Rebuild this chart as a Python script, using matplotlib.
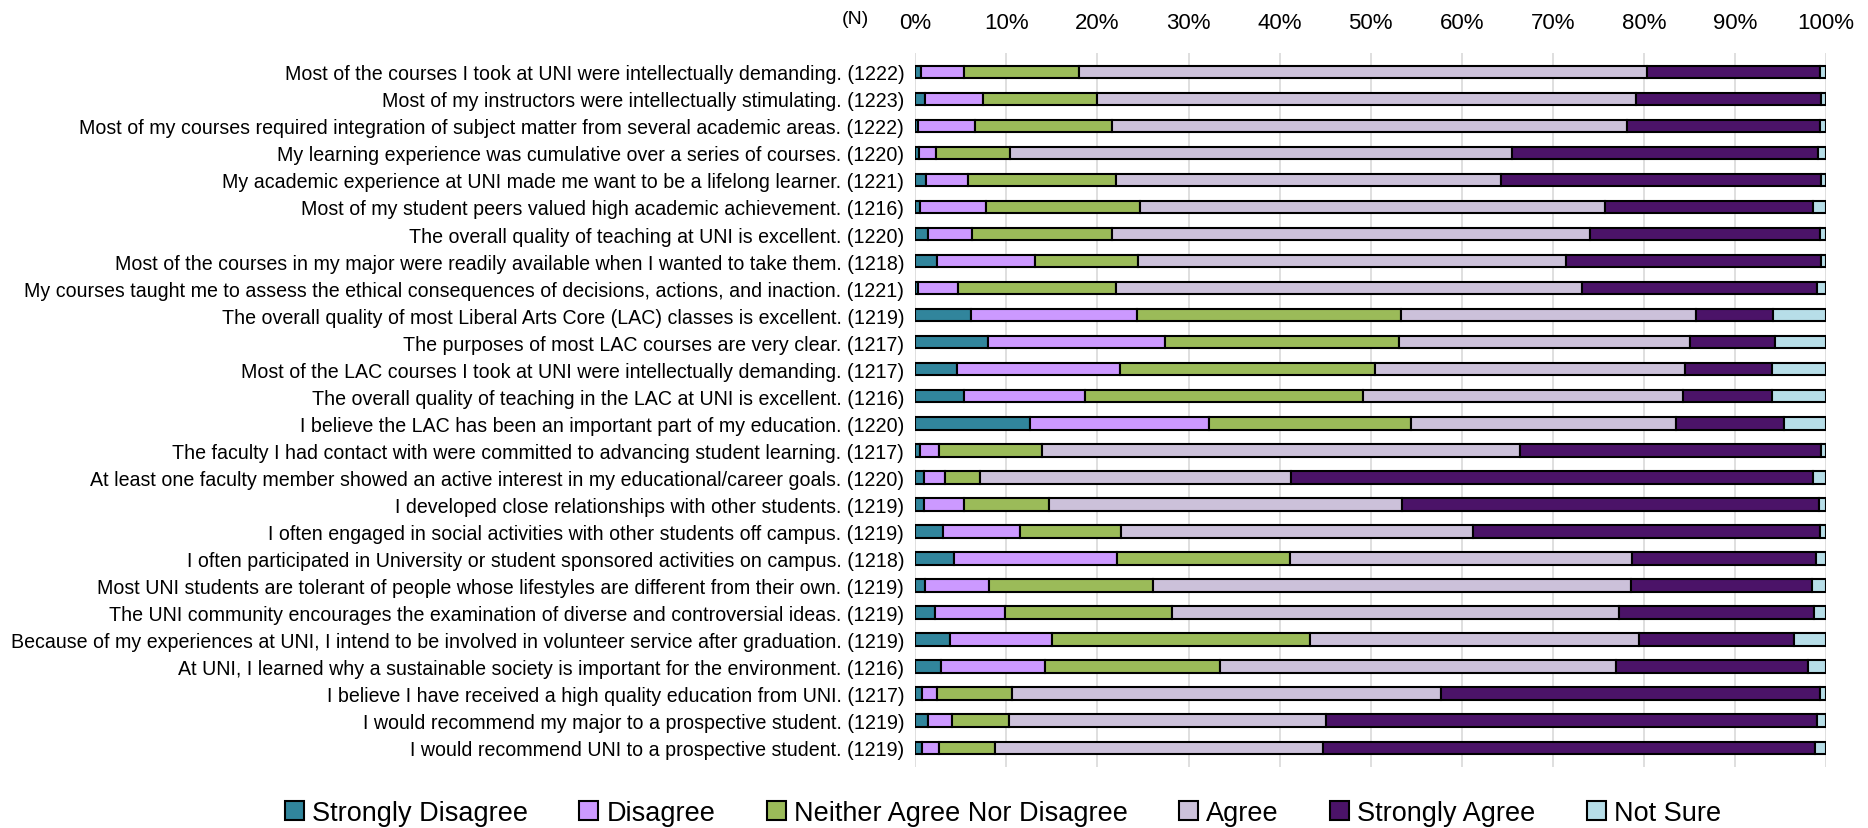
import matplotlib.pyplot as plt

# Survey items (top to bottom) and respondent counts
statements = [
    "Most of the courses I took at UNI were intellectually demanding.",
    "Most of my instructors were intellectually stimulating.",
    "Most of my courses required integration of subject matter from several academic areas.",
    "My learning experience was cumulative over a series of courses.",
    "My academic experience at UNI made me want to be a lifelong learner.",
    "Most of my student peers valued high academic achievement.",
    "The overall quality of teaching at UNI is excellent.",
    "Most of the courses in my major were readily available when I wanted to take them.",
    "My courses taught me to assess the ethical consequences of decisions, actions, and inaction.",
    "The overall quality of most Liberal Arts Core (LAC) classes is excellent.",
    "The purposes of most LAC courses are very clear.",
    "Most of the LAC courses I took at UNI were intellectually demanding.",
    "The overall quality of teaching in the LAC at UNI is excellent.",
    "I believe the LAC has been an important part of my education.",
    "The faculty I had contact with were committed to advancing student learning.",
    "At least one faculty member showed an active interest in my educational/career goals.",
    "I developed close relationships with other students.",
    "I often engaged in social activities with other students off campus.",
    "I often participated in University or student sponsored activities on campus.",
    "Most UNI students are tolerant of people whose lifestyles are different from their own.",
    "The UNI community encourages the examination of diverse and controversial ideas.",
    "Because of my experiences at UNI, I intend to be involved in volunteer service after graduation.",
    "At UNI, I learned why a sustainable society is important for the environment.",
    "I believe I have received a high quality education from UNI.",
    "I would recommend my major to a prospective student.",
    "I would recommend UNI to a prospective student.",
]
n_resp = [1222, 1223, 1222, 1220, 1221, 1216, 1220, 1218, 1221, 1219, 1217, 1217, 1216,
          1220, 1217, 1220, 1219, 1219, 1218, 1219, 1219, 1219, 1216, 1217, 1219, 1219]

# Percentages
strongly_disagree = [0.6, 1.1, 0.3, 0.4, 1.2, 0.5, 1.4, 2.4, 0.3, 6.1, 8.0, 4.6, 5.4,
                     12.6, 0.5, 0.9, 0.9, 3.0, 4.2, 1.1, 2.2, 3.8, 2.8, 0.7, 1.4, 0.7]
disagree = [4.7, 6.3, 6.3, 1.9, 4.6, 7.3, 4.8, 10.7, 4.4, 18.2, 19.4, 17.9, 13.2,
            19.6, 2.1, 2.4, 4.4, 8.5, 18.0, 7.0, 7.7, 11.2, 11.4, 1.7, 2.6, 1.9]
neither = [12.7, 12.5, 15.0, 8.1, 16.2, 16.9, 15.4, 11.4, 17.3, 29.0, 25.7, 28.0, 30.6,
           22.2, 11.3, 3.8, 9.4, 11.1, 18.9, 18.0, 18.3, 28.3, 19.3, 8.2, 6.3, 6.2]
agree = [62.3, 59.2, 56.6, 55.1, 42.3, 51.0, 52.5, 47.0, 51.2, 32.4, 32.0, 34.0, 35.1,
         29.1, 52.5, 34.2, 38.7, 38.6, 37.6, 52.5, 49.1, 36.2, 43.4, 47.1, 34.8, 36.0]
strongly_agree = [19.0, 20.3, 21.1, 33.6, 35.2, 22.9, 25.2, 28.0, 25.8, 8.5, 9.3, 9.6, 9.8,
                  11.9, 33.1, 57.3, 45.8, 38.1, 20.2, 19.9, 21.4, 17.0, 21.1, 41.6, 53.9, 54.0]
not_sure = [0.7, 0.6, 0.7, 0.9, 0.5, 1.4, 0.7, 0.5, 1.0, 5.8, 5.6, 5.9, 5.9,
            4.6, 0.5, 1.4, 0.8, 0.7, 1.1, 1.5, 1.3, 3.5, 2.0, 0.7, 1.0, 1.2]

series_names = ["Strongly Disagree", "Disagree", "Neither Agree Nor Disagree",
                "Agree", "Strongly Agree", "Not Sure"]
colors = ["#31859C", "#CC99FF", "#9BBB59", "#CCC1DA", "#4B1368", "#B7DEE8"]

plt.rcParams["font.family"] = ["Liberation Sans", "DejaVu Sans"]

fig = plt.figure(figsize=(18.68, 8.29), dpi=100)
ax = fig.add_axes([0.490, 0.074, 0.4875, 0.861])

y = list(range(len(statements)))
left = [0.0] * len(statements)
all_series = [strongly_disagree, disagree, neither, agree, strongly_agree, not_sure]
for name, vals, col in zip(series_names, all_series, colors):
    ax.barh(y, vals, left=left, height=0.46, color=col, edgecolor="black",
            linewidth=1.5, label=name, zorder=3)
    left = [l + v for l, v in zip(left, vals)]

ax.set_ylim(25.7, -0.7)
ax.set_xlim(0, 100)
ax.set_yticks(y)
ax.set_yticklabels([f"{s} ({n})" for s, n in zip(statements, n_resp)], fontsize=14.1)
ax.set_xticks(range(0, 101, 10))
ax.set_xticklabels([f"{t}%" for t in range(0, 101, 10)], fontsize=16)
ax.xaxis.tick_top()
ax.tick_params(axis="both", length=0)
ax.tick_params(axis="x", pad=14)
ax.tick_params(axis="y", pad=8)
ax.grid(axis="x", color="#D9D9D9", linewidth=1.2, zorder=0)
for sp in ax.spines.values():
    sp.set_visible(False)

fig.text(0.458, 0.976, "(N)", ha="center", va="center", fontsize=14)

fig.legend(loc="center", bbox_to_anchor=(0.537, 0.018), ncol=6, frameon=False,
           fontsize=19.5, handlelength=0.7, handleheight=0.7, handletextpad=0.3,
           columnspacing=1.9)

fig.savefig("out.png", dpi=100)
